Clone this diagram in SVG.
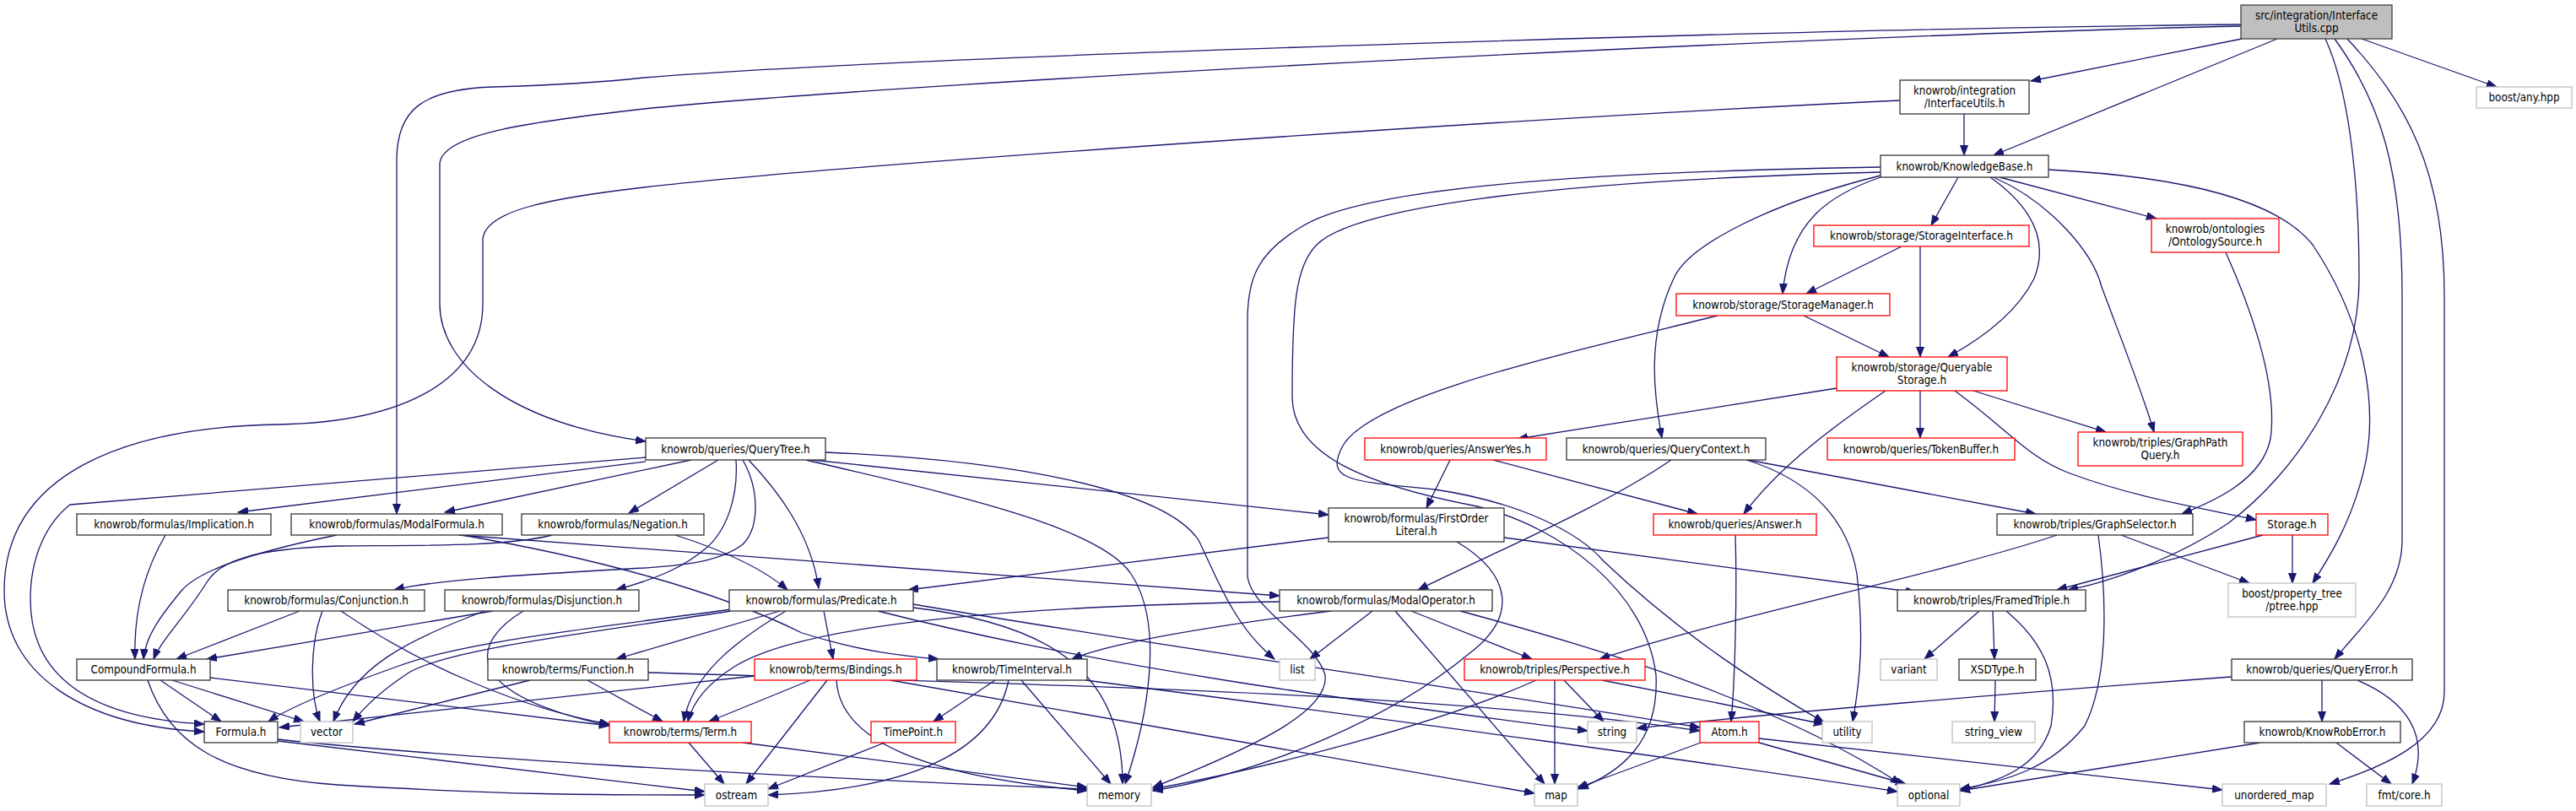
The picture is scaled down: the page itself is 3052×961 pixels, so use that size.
<svg xmlns="http://www.w3.org/2000/svg" width="3052" height="961" viewBox="0 0 3052 961">
<style>
.n rect{fill:#fff;stroke:#333;stroke-width:1.3}
.r rect{stroke:#ff0000}
.g rect{stroke:#bfbfbf}
.root rect{fill:#bfbfbf;stroke:#404040}
text{font-family:'DejaVu Sans Condensed','DejaVu Sans',sans-serif;font-stretch:condensed;font-size:13.33px;text-anchor:middle;fill:#000}
#edges path{fill:none;stroke:#191970;stroke-width:1.3;marker-end:url(#a)}
</style>
<defs>
<marker id="a" markerUnits="userSpaceOnUse" markerWidth="13" markerHeight="10" refX="12" refY="4.5" orient="auto"><path d="M0,0 L12,4.5 L0,9 z" fill="#191970" stroke="#191970" stroke-width="1"/></marker>
</defs>
<rect width="3052" height="961" fill="#fff"/>
<g id="edges">
<path d="M2656,46 L2406,96"/>
<path d="M2698,46 L2362,184"/>
<path d="M2798,46 L2958,103"/>
<path d="M2655,29 C2200,33 1100,65 763,92 C700,99 620,102 584,103 C500,106 470,130 470,190 L470,609"/>
<path d="M2655,31 C2200,40 1100,95 763,129 C620,145 521,160 521,195 L521,360 C521,430 600,500 765,523"/>
<path d="M2755,46 C2780,100 2795,200 2795,330 C2795,450 2720,560 2640,620 C2580,660 2500,690 2450,699"/>
<path d="M2766,46 C2820,120 2846,200 2846,350 L2846,640 C2846,700 2800,740 2766,781"/>
<path d="M2781,46 C2850,120 2896,200 2896,350 L2896,820 C2896,880 2820,910 2760,929"/>
<path d="M2327,135 L2327,184"/>
<path d="M2251,119 C1800,140 1000,195 763,222 C650,235 572,250 572,285 L572,360 C572,450 480,500 330,503 C150,506 5,560 5,700 C5,800 100,860 242,867"/>
<path d="M2320,210 L2288,267"/>
<path d="M2369,210 L2555,259"/>
<path d="M2358,210 C2400,240 2430,280 2410,330 C2390,370 2350,400 2308,423"/>
<path d="M2362,210 C2430,240 2480,300 2490,340 C2520,420 2540,470 2552,512"/>
<path d="M2228,210 C2170,230 2120,260 2112,348"/>
<path d="M2228,208 C2100,240 2000,290 1983,330 C1950,400 1960,470 1969,519"/>
<path d="M2427,201 C2600,210 2700,240 2740,290 C2800,380 2820,480 2800,560 C2785,620 2760,660 2740,691"/>
<path d="M2228,204 C1800,215 1600,250 1560,290 C1535,315 1531,360 1531,470 C1531,540 1620,575 1750,600 C1850,625 1950,700 1962,800 C1966,880 1920,915 1870,935"/>
<path d="M2228,198 C1800,205 1600,230 1540,270 C1490,300 1478,330 1478,380 L1478,680 C1478,720 1560,760 1570,800 C1575,840 1500,880 1366,933"/>
<path d="M2253,292 L2140,348"/>
<path d="M2275,292 L2275,423"/>
<path d="M2137,374 L2238,423"/>
<path d="M2035,374 C1850,420 1620,470 1590,530 C1570,570 1600,570 1700,580 C1800,595 1870,630 1900,665 C2000,760 2100,820 2161,856"/>
<path d="M2176,460 L1798,520"/>
<path d="M2275,463 L2275,519"/>
<path d="M2234,463 C2180,500 2110,550 2066,609"/>
<path d="M2338,463 L2495,512"/>
<path d="M2316,463 C2380,510 2400,540 2450,560 C2530,590 2600,600 2673,616"/>
<path d="M2637,299 C2660,350 2700,450 2690,520 C2680,570 2620,595 2585,609"/>
<path d="M1718,545 L1690,602"/>
<path d="M1769,545 L2011,609"/>
<path d="M1980,545 C1900,600 1780,650 1680,699"/>
<path d="M2071,545 L2412,609"/>
<path d="M2069,545 C2150,570 2190,620 2200,680 C2208,750 2205,800 2195,855"/>
<path d="M2056,634 C2058,700 2056,800 2051,855"/>
<path d="M2437,634 C2300,680 2050,730 1895,781"/>
<path d="M2486,634 C2495,700 2500,800 2470,860 C2430,910 2380,925 2322,935"/>
<path d="M2513,634 L2665,691"/>
<path d="M2681,634 L2437,699"/>
<path d="M2716,634 L2716,691"/>
<path d="M2345,724 L2280,781"/>
<path d="M2361,724 L2363,781"/>
<path d="M2377,724 C2420,760 2440,800 2430,860 C2415,910 2370,925 2322,937"/>
<path d="M2364,806 L2363,855"/>
<path d="M2644,802 C2400,820 2100,845 1939,863"/>
<path d="M2751,806 L2751,855"/>
<path d="M2793,806 C2850,830 2880,870 2858,929"/>
<path d="M2678,880 L2322,937"/>
<path d="M2768,880 L2833,929"/>
<path d="M2015,880 L1868,934"/>
<path d="M2084,875 L2633,936"/>
<path d="M2084,880 L2258,929"/>
<path d="M1820,806 C1700,860 1500,910 1366,935"/>
<path d="M1842,806 L1842,929"/>
<path d="M1853,806 L1900,855"/>
<path d="M1898,806 L2161,858"/>
<path d="M1577,724 C1450,740 1320,760 1270,781"/>
<path d="M1516,713 C1200,718 950,740 870,790 C835,812 820,835 815,855"/>
<path d="M1626,724 L1552,781"/>
<path d="M1653,724 L1830,929"/>
<path d="M1672,724 L1815,781"/>
<path d="M1730,724 C1900,770 2100,830 2252,929"/>
<path d="M1574,637 L1076,699"/>
<path d="M1726,642 C1790,680 1800,730 1740,775 C1650,850 1500,915 1366,937"/>
<path d="M1782,637 L2270,702"/>
<path d="M765,542 L83,598 C55,620 36,660 36,710 C36,790 90,850 242,858"/>
<path d="M765,547 L282,607"/>
<path d="M819,545 L527,607"/>
<path d="M851,545 L745,608"/>
<path d="M880,545 C900,580 900,625 880,645 C850,668 800,670 763,673 C640,680 520,686 467,699"/>
<path d="M872,545 C875,590 860,630 836,650 C810,672 780,685 730,699"/>
<path d="M887,545 C920,580 960,630 970,697"/>
<path d="M955,545 C1100,580 1300,620 1340,680 C1380,740 1360,850 1333,929"/>
<path d="M962,545 L1574,610"/>
<path d="M978,536 C1200,545 1380,580 1420,640 C1440,680 1460,740 1510,781"/>
<path d="M196,634 C175,670 158,720 160,781"/>
<path d="M399,634 C330,648 240,670 215,700 C190,730 172,755 170,781"/>
<path d="M543,634 L1516,706"/>
<path d="M547,634 C700,660 850,700 950,750 C1030,775 1080,778 1112,781"/>
<path d="M654,634 C600,648 500,646 400,647 C300,650 260,665 245,690 C220,730 190,760 182,781"/>
<path d="M800,634 C850,650 900,670 933,699"/>
<path d="M355,724 L209,781"/>
<path d="M382,724 C368,760 366,820 379,855"/>
<path d="M404,724 C500,790 620,840 722,858"/>
<path d="M584,724 L245,781"/>
<path d="M574,724 C480,760 420,790 395,855"/>
<path d="M620,724 C560,760 540,820 722,860"/>
<path d="M866,722 C700,745 550,760 470,790 C400,815 340,840 318,855"/>
<path d="M866,724 C700,750 520,770 480,800 C450,820 430,840 418,855"/>
<path d="M931,724 C870,760 820,800 810,855"/>
<path d="M924,724 L730,781"/>
<path d="M976,724 L987,781"/>
<path d="M1082,720 C1250,740 1330,800 1330,929"/>
<path d="M1040,724 C1300,790 1600,830 1881,866"/>
<path d="M1082,716 C1400,770 1700,810 2014,862"/>
<path d="M190,806 L262,855"/>
<path d="M204,806 L360,855"/>
<path d="M249,803 L722,860"/>
<path d="M175,806 C200,880 260,920 400,930 C600,942 700,942 835,942"/>
<path d="M628,806 L420,858"/>
<path d="M696,806 L785,855"/>
<path d="M768,797 C1200,810 1700,820 2014,866"/>
<path d="M894,801 L331,862"/>
<path d="M960,806 L840,855"/>
<path d="M980,806 L884,929"/>
<path d="M991,806 C995,880 1100,920 1288,937"/>
<path d="M1055,806 L1818,940"/>
<path d="M1179,806 L1106,855"/>
<path d="M1195,806 C1180,880 1100,935 910,942"/>
<path d="M1210,806 L1316,929"/>
<path d="M1286,806 C1700,860 2000,900 2248,938"/>
<path d="M329,876 C500,895 900,920 1288,935"/>
<path d="M329,878 L835,938"/>
<path d="M816,880 L858,929"/>
<path d="M880,880 L1288,933"/>
<path d="M1048,880 L910,935"/>
</g>
<g id="n0" class="n root"><rect x="2655" y="6" width="179" height="40"/><text x="2744.5" y="23">src/integration/Interface</text><text x="2744.5" y="38">Utils.cpp</text></g>
<g id="n1" class="n"><rect x="2251" y="95" width="153" height="40"/><text x="2327.5" y="112">knowrob/integration</text><text x="2327.5" y="127">/InterfaceUtils.h</text></g>
<g id="n2" class="n"><rect x="2228" y="184" width="199" height="26"/><text x="2327.5" y="202">knowrob/KnowledgeBase.h</text></g>
<g id="n6" class="n g"><rect x="2934" y="103" width="113" height="25"/><text x="2990.5" y="120">boost/any.hpp</text></g>
<g id="n10" class="n r"><rect x="2149" y="267" width="255" height="25"/><text x="2276.5" y="284">knowrob/storage/StorageInterface.h</text></g>
<g id="n11" class="n r"><rect x="2549" y="259" width="151" height="40"/><text x="2624.5" y="276">knowrob/ontologies</text><text x="2624.5" y="291">/OntologySource.h</text></g>
<g id="n12" class="n r"><rect x="1986" y="348" width="253" height="26"/><text x="2112.5" y="366">knowrob/storage/StorageManager.h</text></g>
<g id="n13" class="n r"><rect x="2176" y="423" width="202" height="40"/><text x="2277" y="440">knowrob/storage/Queryable</text><text x="2277" y="455">Storage.h</text></g>
<g id="n3" class="n"><rect x="765" y="519" width="213" height="26"/><text x="871.5" y="537">knowrob/queries/QueryTree.h</text></g>
<g id="n20" class="n r"><rect x="1617" y="519" width="215" height="26"/><text x="1724.5" y="537">knowrob/queries/AnswerYes.h</text></g>
<g id="n14" class="n"><rect x="1856" y="519" width="236" height="26"/><text x="1974" y="537">knowrob/queries/QueryContext.h</text></g>
<g id="n21" class="n r"><rect x="2165" y="519" width="222" height="26"/><text x="2276" y="537">knowrob/queries/TokenBuffer.h</text></g>
<g id="n15" class="n r"><rect x="2462" y="512" width="195" height="40"/><text x="2559.5" y="529">knowrob/triples/GraphPath</text><text x="2559.5" y="544">Query.h</text></g>
<g id="n26" class="n"><rect x="91" y="609" width="230" height="25"/><text x="206" y="626">knowrob/formulas/Implication.h</text></g>
<g id="n4" class="n"><rect x="345" y="609" width="250" height="25"/><text x="470" y="626">knowrob/formulas/ModalFormula.h</text></g>
<g id="n27" class="n"><rect x="618" y="609" width="216" height="25"/><text x="726" y="626">knowrob/formulas/Negation.h</text></g>
<g id="n24" class="n"><rect x="1574" y="602" width="208" height="40"/><text x="1678" y="619">knowrob/formulas/FirstOrder</text><text x="1678" y="634">Literal.h</text></g>
<g id="n22" class="n r"><rect x="1959" y="609" width="193" height="25"/><text x="2055.5" y="626">knowrob/queries/Answer.h</text></g>
<g id="n25" class="n"><rect x="2366" y="609" width="232" height="25"/><text x="2482" y="626">knowrob/triples/GraphSelector.h</text></g>
<g id="n23" class="n r"><rect x="2673" y="609" width="85" height="25"/><text x="2715.5" y="626">Storage.h</text></g>
<g id="n28" class="n"><rect x="270" y="699" width="233" height="25"/><text x="386.5" y="716">knowrob/formulas/Conjunction.h</text></g>
<g id="n29" class="n"><rect x="527" y="699" width="230" height="25"/><text x="642" y="716">knowrob/formulas/Disjunction.h</text></g>
<g id="n30" class="n"><rect x="864" y="699" width="218" height="25"/><text x="973" y="716">knowrob/formulas/Predicate.h</text></g>
<g id="n31" class="n"><rect x="1516" y="699" width="252" height="25"/><text x="1642" y="716">knowrob/formulas/ModalOperator.h</text></g>
<g id="n7" class="n"><rect x="2248" y="699" width="223" height="25"/><text x="2359.5" y="716">knowrob/triples/FramedTriple.h</text></g>
<g id="n16" class="n g"><rect x="2640" y="691" width="151" height="40"/><text x="2715.5" y="708">boost/property_tree</text><text x="2715.5" y="723">/ptree.hpp</text></g>
<g id="n32" class="n"><rect x="91" y="781" width="158" height="25"/><text x="170" y="798">CompoundFormula.h</text></g>
<g id="n33" class="n"><rect x="578" y="781" width="190" height="25"/><text x="673" y="798">knowrob/terms/Function.h</text></g>
<g id="n34" class="n r"><rect x="894" y="781" width="192" height="25"/><text x="990" y="798">knowrob/terms/Bindings.h</text></g>
<g id="n35" class="n"><rect x="1110" y="781" width="178" height="25"/><text x="1199" y="798">knowrob/TimeInterval.h</text></g>
<g id="n36" class="n g"><rect x="1516" y="781" width="42" height="25"/><text x="1537" y="798">list</text></g>
<g id="n37" class="n r"><rect x="1735" y="781" width="214" height="25"/><text x="1842" y="798">knowrob/triples/Perspective.h</text></g>
<g id="n38" class="n g"><rect x="2228" y="781" width="67" height="25"/><text x="2261.5" y="798">variant</text></g>
<g id="n39" class="n"><rect x="2321" y="781" width="91" height="25"/><text x="2366.5" y="798">XSDType.h</text></g>
<g id="n8" class="n"><rect x="2644" y="781" width="214" height="25"/><text x="2751" y="798">knowrob/queries/QueryError.h</text></g>
<g id="n5" class="n"><rect x="242" y="855" width="87" height="25"/><text x="285.5" y="872">Formula.h</text></g>
<g id="n46" class="n g"><rect x="356" y="855" width="62" height="25"/><text x="387" y="872">vector</text></g>
<g id="n40" class="n r"><rect x="722" y="855" width="168" height="25"/><text x="806" y="872">knowrob/terms/Term.h</text></g>
<g id="n41" class="n r"><rect x="1032" y="855" width="100" height="25"/><text x="1082" y="872">TimePoint.h</text></g>
<g id="n42" class="n g"><rect x="1881" y="855" width="58" height="25"/><text x="1910" y="872">string</text></g>
<g id="n43" class="n r"><rect x="2014" y="855" width="70" height="25"/><text x="2049" y="872">Atom.h</text></g>
<g id="n19" class="n g"><rect x="2159" y="855" width="59" height="25"/><text x="2188.5" y="872">utility</text></g>
<g id="n44" class="n g"><rect x="2313" y="855" width="98" height="25"/><text x="2362" y="872">string_view</text></g>
<g id="n45" class="n"><rect x="2659" y="855" width="185" height="25"/><text x="2751.5" y="872">knowrob/KnowRobError.h</text></g>
<g id="n47" class="n g"><rect x="835" y="929" width="75" height="26"/><text x="872.5" y="947">ostream</text></g>
<g id="n17" class="n g"><rect x="1288" y="929" width="76" height="26"/><text x="1326" y="947">memory</text></g>
<g id="n18" class="n g"><rect x="1818" y="929" width="51" height="26"/><text x="1843.5" y="947">map</text></g>
<g id="n48" class="n g"><rect x="2248" y="929" width="74" height="26"/><text x="2285" y="947">optional</text></g>
<g id="n9" class="n g"><rect x="2633" y="929" width="123" height="26"/><text x="2694.5" y="947">unordered_map</text></g>
<g id="n49" class="n g"><rect x="2804" y="929" width="89" height="26"/><text x="2848.5" y="947">fmt/core.h</text></g>
</svg>
